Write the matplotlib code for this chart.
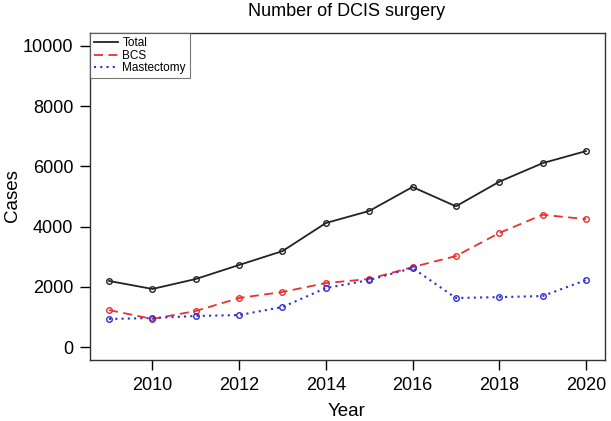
import matplotlib
matplotlib.use("Agg")
import matplotlib.pyplot as plt

plt.rcParams['font.family'] = ['Liberation Sans', 'DejaVu Sans']

years = [2009, 2010, 2011, 2012, 2013, 2014, 2015, 2016, 2017, 2018, 2019, 2020]
total = [2200, 1935, 2265, 2730, 3190, 4120, 4520, 5315, 4675, 5490, 6105, 6505]
bcs = [1235, 940, 1205, 1635, 1835, 2130, 2265, 2660, 3025, 3790, 4395, 4250]
mastectomy = [940, 970, 1040, 1070, 1335, 1965, 2230, 2630, 1635, 1665, 1700, 2230]

W, H = 611, 421
fig = plt.figure(figsize=(W / 100, H / 100), dpi=100)
ax = fig.add_axes([90 / W, 1 - 360 / H, 515 / W, 327 / H])

ax.plot(years, total, color='#222222', linestyle='-', lw=1.3,
        marker='o', ms=4, mfc='none', mew=1, label='Total')
ax.plot(years, bcs, color='#e8312f', linestyle=(0, (5, 3)), lw=1.3,
        marker='o', ms=4, mfc='none', mew=1, label='BCS')
ax.plot(years, mastectomy, color='#2f2fd8', linestyle=(0, (1, 2)), lw=1.5,
        marker='o', ms=4, mfc='none', mew=1, label='Mastectomy')

ax.set_xlim(2008.56, 2020.44)
ax.set_ylim(-420, 10420)
ax.set_xticks([2010, 2012, 2014, 2016, 2018, 2020])
ax.set_yticks([0, 2000, 4000, 6000, 8000, 10000])
ax.tick_params(direction='out', length=7, width=1, labelsize=13, pad=5)
for s in ax.spines.values():
    s.set_linewidth(1)
    s.set_color('#333333')

# titles placed in figure pixels to match the reference layout
fig.text(347 / W, 1 - 12 / H, 'Number of DCIS surgery', fontsize=13,
         ha='center', va='center')
fig.text(347 / W, 1 - 411 / H, 'Year', fontsize=13.5, ha='center', va='center')
fig.text(13 / W, 1 - 196 / H, 'Cases', fontsize=13.5, rotation=90,
         ha='center', va='center')

leg = ax.legend(loc='upper left', fontsize=8.5, frameon=True, fancybox=False,
                borderaxespad=0, handlelength=2.0, handletextpad=0.4,
                labelspacing=0.05, borderpad=0.35)
leg.get_frame().set_edgecolor('#555555')
leg.get_frame().set_linewidth(0.8)
for h in leg.get_lines():
    h.set_marker('')

fig.savefig('out.png', dpi=100)
